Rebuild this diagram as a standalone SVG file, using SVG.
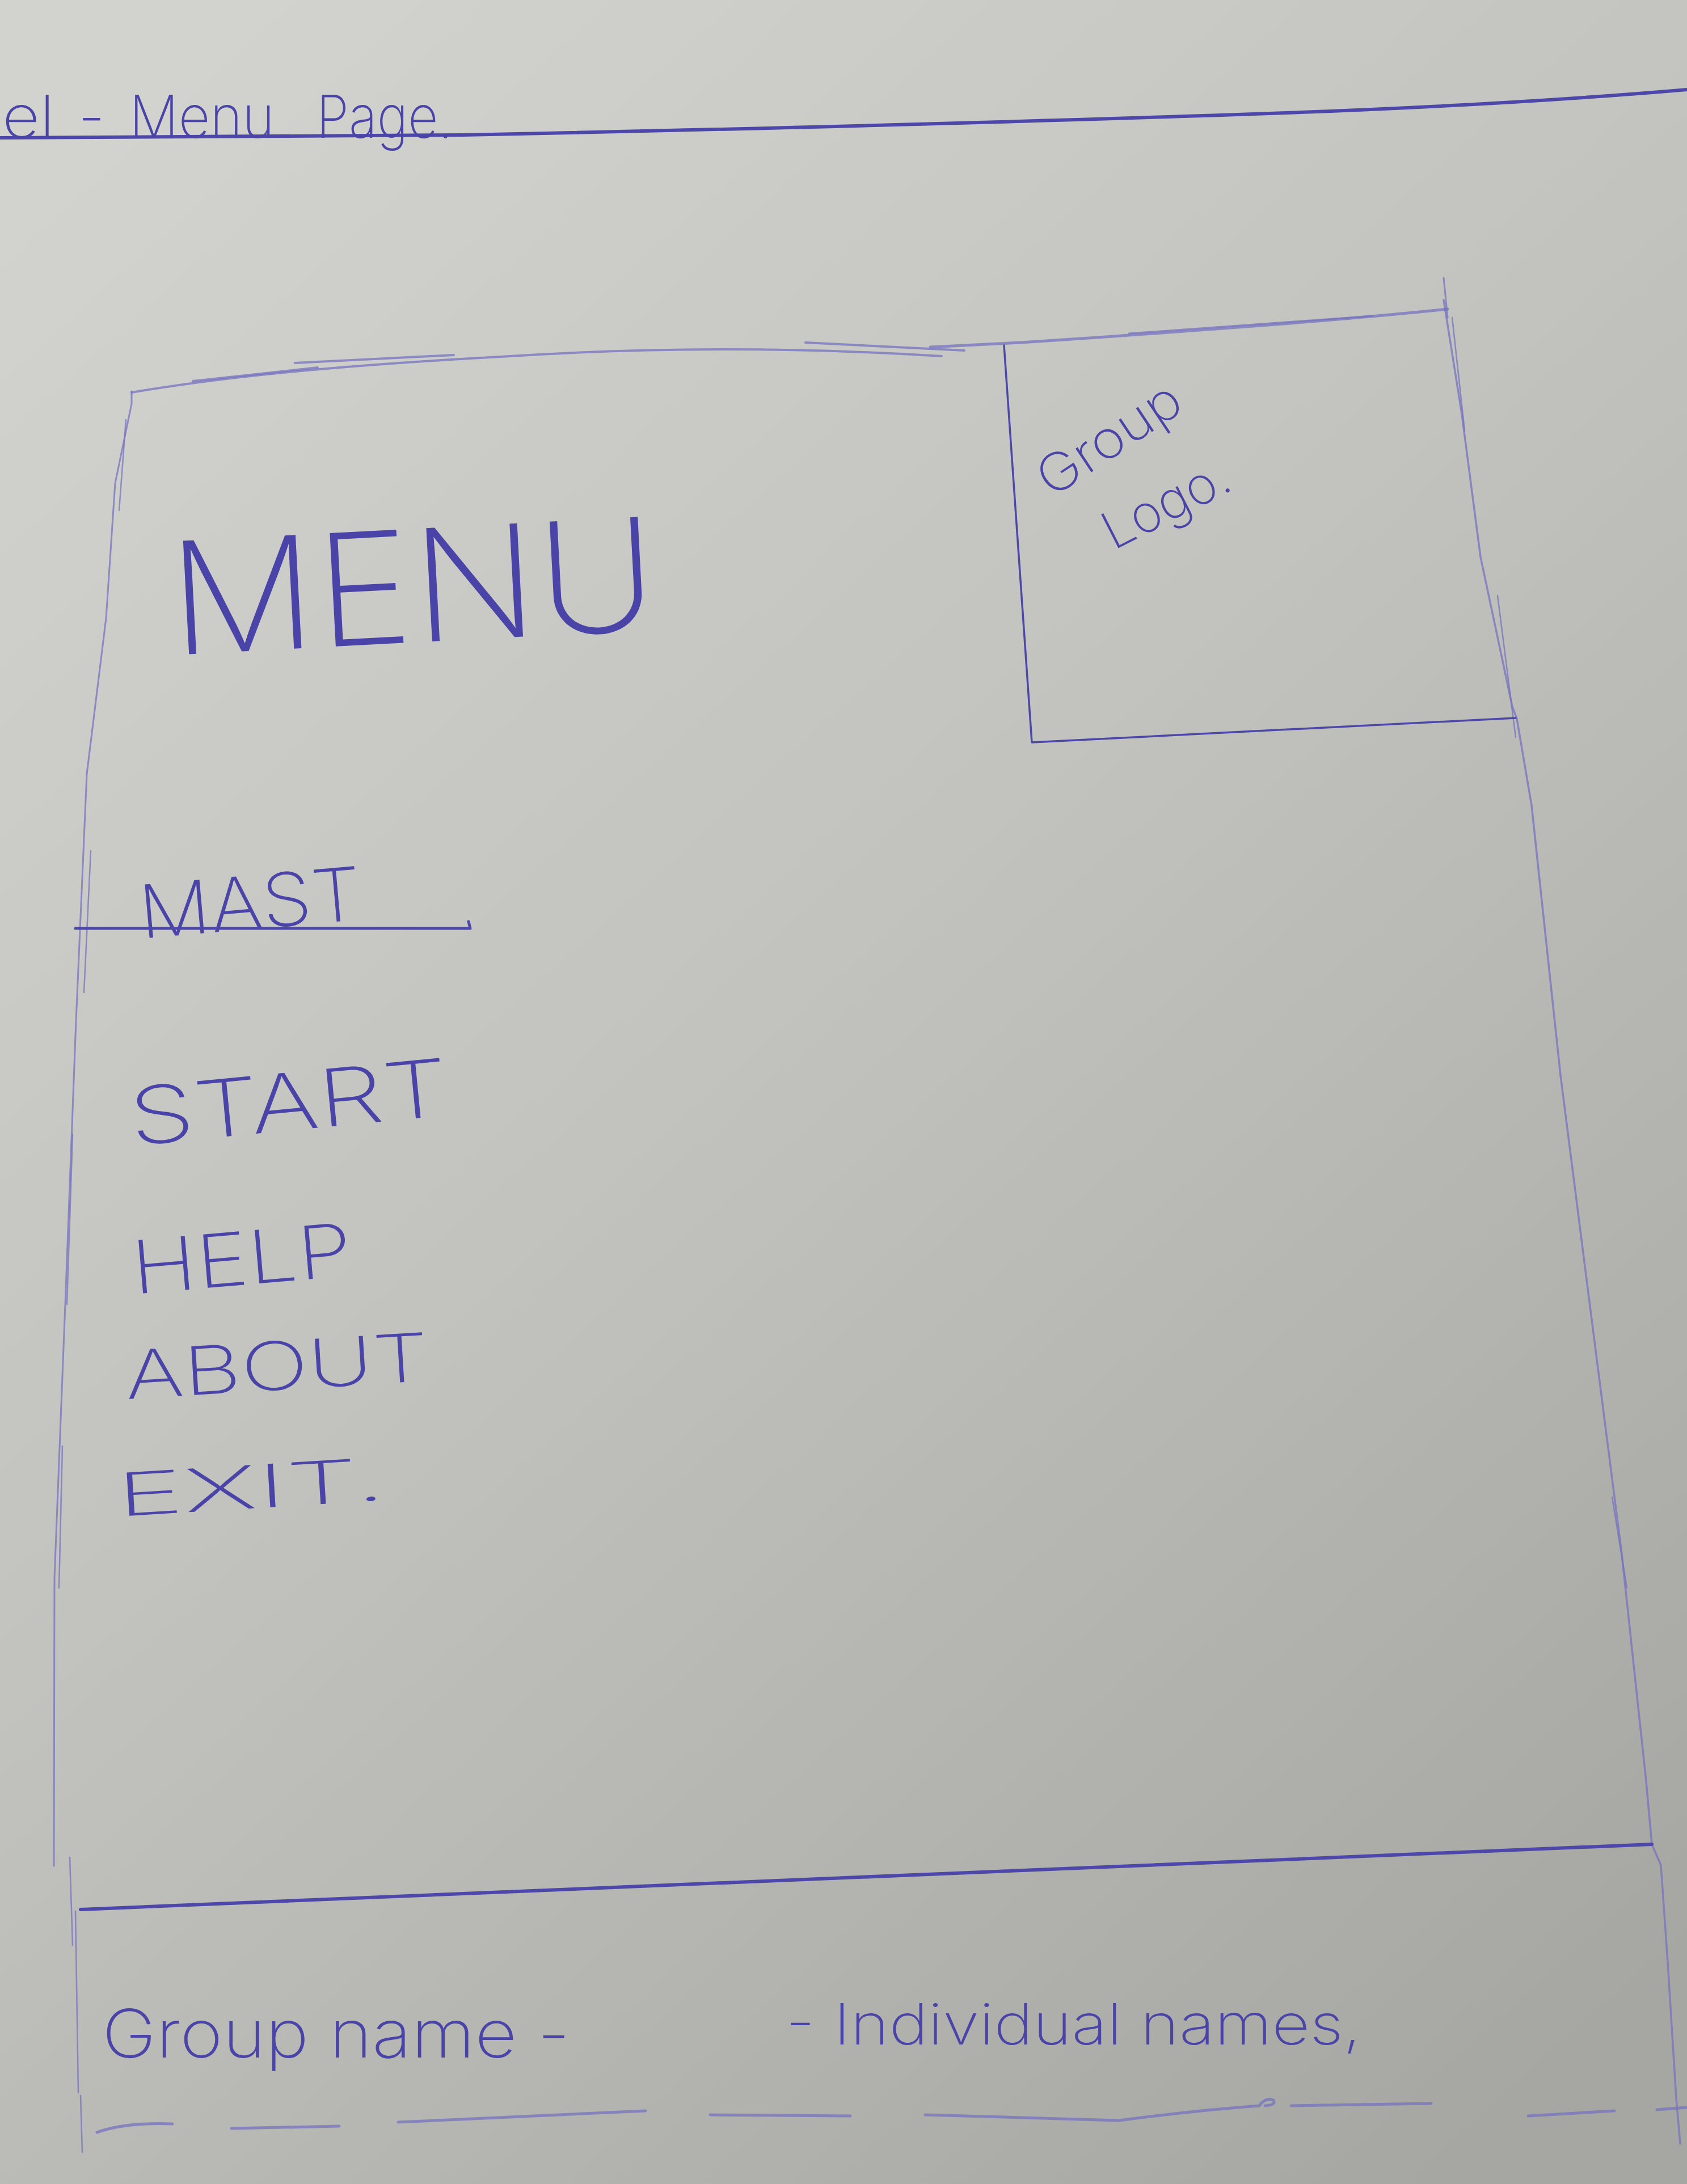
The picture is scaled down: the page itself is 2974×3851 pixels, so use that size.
<svg xmlns="http://www.w3.org/2000/svg" width="2974" height="3851" viewBox="0 0 2974 3851">
<defs>
<linearGradient id="paper" x1="0.15" y1="0" x2="0.85" y2="1">
<stop offset="0" stop-color="#d2d3cf"/>
<stop offset="0.45" stop-color="#c2c3be"/>
<stop offset="1" stop-color="#a6a7a2"/>
</linearGradient>
<style>
.ink{fill:#4a43a8;font-family:Inter,Roboto,"Liberation Sans",sans-serif;font-weight:200}
.pen{fill:none;stroke:#4d47aa;stroke-linecap:round;stroke-linejoin:round}
.faint{fill:none;stroke:#7672c0;stroke-linecap:round;stroke-linejoin:round;opacity:0.75}
</style>
</defs>
<rect width="2974" height="3851" fill="url(#paper)"/>

<g id="title">
<path class="pen" stroke-width="6" d="M0,243 L816,238 Q1500,224 2087,205 Q2600,190 2974,158"/>
<text class="ink" y="243" font-size="105"><tspan x="4" textLength="92" lengthAdjust="spacingAndGlyphs">el</tspan><tspan x="138">-</tspan><tspan x="228" textLength="256" lengthAdjust="spacingAndGlyphs">Menu</tspan><tspan x="558" textLength="240" lengthAdjust="spacingAndGlyphs">Page.</tspan></text>
</g>

<g id="frame">
<path class="faint" stroke-width="4" d="M232,692 C420,660 640,642 900,628 C1150,612 1400,612 1660,628"/>
<path class="faint" stroke-width="4" d="M340,672 L560,648 M520,640 L800,626 M1420,604 L1700,618"/>
<path class="faint" stroke-width="5" d="M1640,612 L1800,604 C2100,584 2350,566 2552,545"/>
<path class="faint" stroke-width="3" d="M1990,588 L2420,557 M2545,490 L2552,560"/>
<path class="faint" stroke-width="3" d="M232,690 L232,712 L203,852 L187,1090 L153,1365 L137,1732 L134,1800 L115,2300 L96,2782 L95,3290"/>
<path class="faint" stroke-width="2.5" d="M222,740 L210,900 M160,1500 L148,1750 M128,2000 L118,2300 M110,2550 L104,2800 M123,3275 L128,3430 M133,3370 L138,3690 M142,3695 L145,3795"/>
<path class="faint" stroke-width="3.5" d="M2545,529 L2577,730 L2610,982 L2666,1246 L2674,1267 L2700,1420 L2751,1896 L2816,2405 L2859,2740 L2902,3141 L2912,3252 L2928,3289 L2940,3460 L2955,3700 L2962,3780"/>
<path class="faint" stroke-width="2.5" d="M2560,560 L2582,760 M2640,1050 L2672,1300 M2842,2640 L2868,2800"/>
</g>

<g id="logo-box">
<path class="pen" stroke-width="3.5" d="M1770,609 L1819,1309 L2672,1266"/>
<text class="ink" x="1854" y="879" font-size="92" textLength="285" lengthAdjust="spacingAndGlyphs" transform="rotate(-33.6 1854 879)">Group</text>
<text class="ink" x="1963" y="971" font-size="92" textLength="240" lengthAdjust="spacingAndGlyphs" transform="rotate(-27 1963 971)">Logo.</text>
</g>

<g id="menu-title">
<text class="ink" x="303" y="1155" font-size="275" textLength="860" lengthAdjust="spacingAndGlyphs" transform="rotate(-3 303 1155)">MENU</text>
</g>

<g id="nav">
<text class="ink" x="249" y="1655" font-size="130" textLength="393" lengthAdjust="spacingAndGlyphs" transform="rotate(-5 249 1655)">MAST</text>
<path class="pen" stroke-width="5" d="M133,1637 L829,1637 L826,1625"/>
<text class="ink" x="233" y="2020" font-size="140" textLength="564" lengthAdjust="spacingAndGlyphs" transform="rotate(-5.5 233 2020)">START</text>
<text class="ink" x="236" y="2282" font-size="130" textLength="389" lengthAdjust="spacingAndGlyphs" transform="rotate(-4.9 236 2282)">HELP</text>
<text class="ink" x="223" y="2467" font-size="118" textLength="536" lengthAdjust="spacingAndGlyphs" transform="rotate(-3.5 223 2467)">ABOUT</text>
<text class="ink" x="207" y="2674" font-size="105" textLength="476" lengthAdjust="spacingAndGlyphs" transform="rotate(-3.5 207 2674)">EXIT.</text>
</g>

<g id="footer">
<path class="pen" stroke-width="6" d="M142,3367 L2912,3252"/>
<text class="ink" x="180" y="3628" font-size="118" textLength="825" lengthAdjust="spacingAndGlyphs">Group name -</text>
<text class="ink" x="1385" y="3605" font-size="100" textLength="1015" lengthAdjust="spacingAndGlyphs">- Individual names,</text>
<path class="faint" stroke-width="5" d="M171,3760 Q220,3742 304,3745 M408,3753 L598,3749 M702,3742 L1138,3722 M1252,3729 L1499,3731 M1631,3729 L1973,3739 Q2100,3722 2220,3713 Q2230,3698 2245,3703 Q2250,3712 2230,3713 M2276,3713 L2523,3709 M2694,3731 L2846,3722 M2921,3720 L2974,3716"/>
</g>
</svg>
